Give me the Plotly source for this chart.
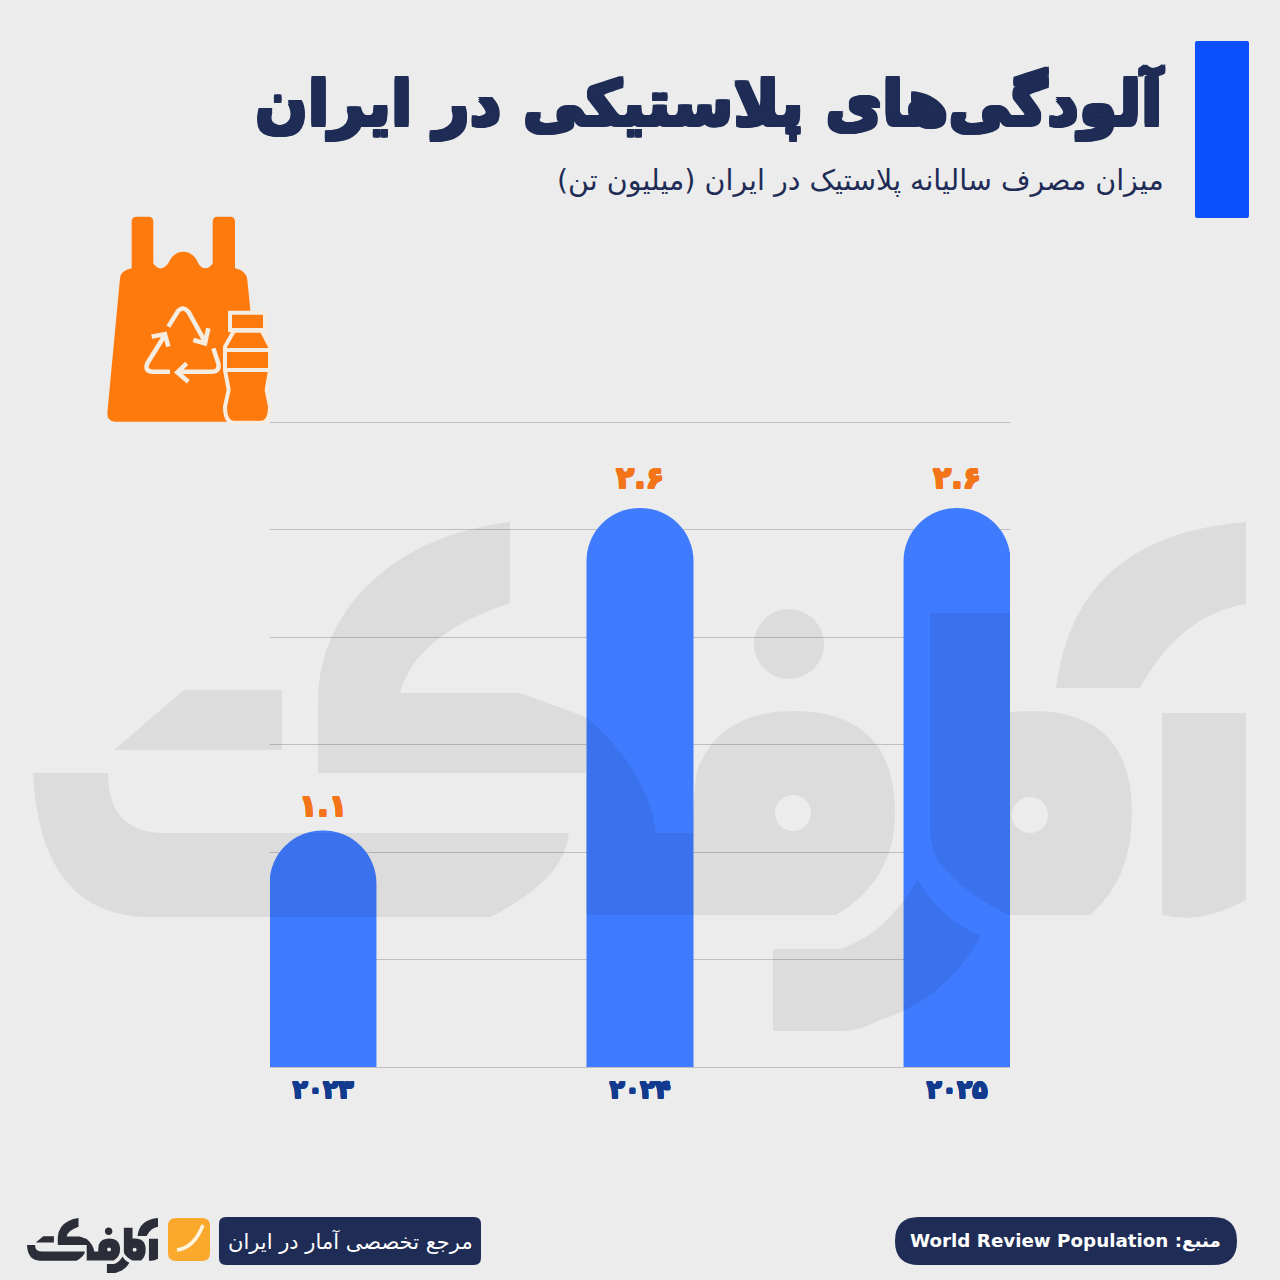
import re
import plotly.graph_objects as go

# ---- data ----
years = ["۲۰۲۳", "۲۰۲۴", "۲۰۲۵"]
values = [1.1, 2.6, 2.6]
value_labels = ["۱.۱", "۲.۶", "۲.۶"]
y_ticks = [0, 0.5, 1, 1.5, 2, 2.5, 3]

title = "آلودگی‌های پلاستیکی در ایران"
subtitle = "\u202bمیزان مصرف سالیانه پلاستیک در ایران (میلیون تن)\u202c"
source = "\u202bمنبع: World Review Population\u202c"
tagline = "مرجع تخصصی آمار در ایران"

W = H = 1280
BG = "#ececec"
NAVY = "#1e2c56"
BLUE = "#3f7bff"
ORANGE = "#ff7a0c"
CREAM = "#f5ece2"
FONT = "DejaVu Sans"


def heavy(color, d=1.0):
    """Text shadow that thickens the glyphs."""
    return ", ".join(f"{x}px {y}px 0 {color}" for x, y in
                     [(d, 0), (-d, 0), (0, d), (0, -d), (d, d), (-d, -d), (d, -d), (-d, d)])


def conv(path, sx=1.0, sy=1.0, ox=0.0, oy=0.0):
    """Pixel path -> paper path."""
    toks = re.findall(r"[MLQCZ]|-?\d+\.?\d*", path)
    out, is_x = [], True
    for t in toks:
        if t in "MLQCZ":
            out.append(t)
            is_x = True
        else:
            v = float(t)
            if is_x:
                out.append(f"{(ox + v * sx) / W:.5f}")
            else:
                out.append(f"{1 - (oy + v * sy) / H:.5f}")
            is_x = not is_x
    return " ".join(out)


def circle(cx, cy, r):
    k = 0.5523 * r
    return (f"M{cx - r} {cy} C{cx - r} {cy - k} {cx - k} {cy - r} {cx} {cy - r} "
            f"C{cx + k} {cy - r} {cx + r} {cy - k} {cx + r} {cy} "
            f"C{cx + r} {cy + k} {cx + k} {cy + r} {cx} {cy + r} "
            f"C{cx - k} {cy + r} {cx - r} {cy + k} {cx - r} {cy} Z ")


def rrect(x0, y0, x1, y1, r):
    return (f"M{x0 + r} {y0} L{x1 - r} {y0} Q{x1} {y0} {x1} {y0 + r} L{x1} {y1 - r} "
            f"Q{x1} {y1} {x1 - r} {y1} L{x0 + r} {y1} Q{x0} {y1} {x0} {y1 - r} "
            f"L{x0} {y0 + r} Q{x0} {y0} {x0 + r} {y0} Z")


def z(path):
    """Coordinates read from a 3x zoom of the icon."""
    return conv(path, 1 / 3, 1 / 3, 90, 200)


LOGO = (
    "M510 522 Q405 535 350 605 Q318 650 318 700 L318 773 L586 773 L586 915 L836 915 "
    "Q895 880 895 813 Q895 711 793 711 Q720 711 697 770 Q692 805 693 833 L656 833 "
    "Q648 770 586 717 L520 693 L400 693 Q415 635 510 603 Z "
    + circle(793, 813, 18)
    + "M184 690 L282 690 L282 750 L114 750 Z "
    "M33 773 L108 773 Q108 833 165 833 L569 833 Q565 880 490 917 L150 917 Q40 917 33 773 Z "
    + circle(789, 644, 35)
    + "M773 949 L840 949 Q885 935 918 879 Q935 915 981 936 Q945 1000 880 1020 Q860 1031 844 1031 L773 1031 Z "
    "M930 613 L1010 613 L1010 712 Q1020 711 1032 711 Q1132 711 1132 813 Q1132 880 1090 915 "
    "L1009 915 Q962 893 938 861 Q930 845 930 833 Z "
    + circle(1030, 815, 18)
    + "M1246 522 L1246 604 Q1180 615 1140 688 L1056 688 Q1075 535 1246 522 Z "
    "M1162 713 L1246 713 L1246 900 Q1200 925 1162 915 Z"
)

BAG = ("M52 640 L90 235 Q92 212 125 205 L125 65 Q125 50 140 50 L175 50 Q190 50 190 65 L190 190 "
       "Q200 207 215 205 Q232 200 240 180 Q255 155 280 155 Q305 155 320 180 Q330 205 345 205 "
       "Q360 205 368 190 L368 65 Q368 50 383 50 L420 50 Q435 50 435 65 L435 205 Q470 212 472 240 "
       "L490 420 L490 665 L75 665 Q52 665 52 640 Z")
BOTTLE = ("M432 392 L405 440 L405 510 L416 570 L405 620 Q405 665 430 668 L515 668 Q540 665 540 620 "
          "L530 570 L540 510 L540 440 L515 392 Z")
CAP = "M420 338 L525 338 L525 390 L420 390 Z"
BANDS = "M405 450 L540 450 M405 510 L540 510"
ARROWS = ("M235 380 L265 332 Q280 318 295 335 L345 425 M310 420 L345 430 L355 385 "
          "M370 445 L385 490 Q390 515 365 515 L265 515 M290 490 L262 517 L295 545 "
          "M240 515 L190 515 Q162 515 172 490 L225 405 M185 410 L225 402 L235 440")


def paper_shape(path, **kw):
    return dict(type="path", xref="paper", yref="paper", path=path, **kw)


shapes = [
    # header block
    paper_shape(conv(rrect(1195, 41, 1249, 218, 2)), fillcolor="#0b50fb", line_width=0, layer="below"),
    # icon
    paper_shape(z(BAG), fillcolor=ORANGE, line_width=0, layer="below"),
    paper_shape(z(ARROWS), line=dict(color=CREAM, width=4.5), layer="below"),
    paper_shape(z(BOTTLE), fillcolor=ORANGE, line=dict(color=CREAM, width=4), layer="below"),
    paper_shape(z(CAP), fillcolor=ORANGE, line=dict(color=CREAM, width=4), layer="below"),
    paper_shape(z(BANDS), line=dict(color=CREAM, width=4), layer="below"),
    # footer
    paper_shape(conv(rrect(219, 1217, 481, 1265, 7)), fillcolor=NAVY, line_width=0, layer="below"),
    paper_shape(conv(rrect(895, 1217, 1237, 1265, 24)), fillcolor=NAVY, line_width=0, layer="below"),
    paper_shape(conv(rrect(168, 1218, 210, 1261, 8)), fillcolor="#fba92c", line_width=0, layer="below"),
    paper_shape(conv("M177 1250 Q194 1248 203 1225"), line=dict(color="#fff4de", width=3.5), layer="below"),
    paper_shape(conv(LOGO, 131 / 1213, 0.108, 27 - 33 * 131 / 1213, 1218 - 522 * 0.108),
                fillcolor="#2b2e38", line_width=0, layer="below", fillrule="evenodd"),
    # watermark lies over the bars
    paper_shape(conv(LOGO), fillcolor="rgba(0,0,0,0.065)", line_width=0, layer="above", fillrule="evenodd"),
]

fig = go.Figure(
    go.Bar(
        x=years,
        y=values,
        width=0.3375,
        marker=dict(color=BLUE, cornerradius=54, line_width=0),
        hoverinfo="skip",
    )
)

annotations = [
    dict(text=f"<b>{title}</b>", x=1166 / W, y=1 - 103 / H, xref="paper", yref="paper", xanchor="right",
         yanchor="middle", showarrow=False, font=dict(family=FONT, size=62, color=NAVY, shadow=heavy(NAVY, 1.6))),
    dict(text=subtitle, x=1166 / W, y=1 - 181 / H, xref="paper", yref="paper", xanchor="right",
         yanchor="middle", showarrow=False, font=dict(family=FONT, size=28.5, color=NAVY)),
    dict(text=tagline, x=350 / W, y=1 - 1241 / H, xref="paper", yref="paper", xanchor="center",
         yanchor="middle", showarrow=False, font=dict(family=FONT, size=21, color="white")),
    dict(text=f"<b>{source}</b>", x=1065 / W, y=1 - 1241 / H, xref="paper", yref="paper", xanchor="center",
         yanchor="middle", showarrow=False, font=dict(family=FONT, size=18.3, color="white")),
]
for yr, val, lab in zip(years, values, value_labels):
    annotations.append(dict(text=f"<b>{lab}</b>", x=yr, y=val, xref="x", yref="y", xanchor="center",
                            yanchor="bottom", yshift=(6 if val < 2 else 11), showarrow=False,
                            font=dict(family=FONT, size=30, color="#f4741a", shadow=heavy("#f4741a", 0.8))))

TOP = 3.01  # nudged so that the gridline at 3 is kept
fig.update_layout(
    width=W,
    height=H,
    margin=dict(l=0, r=0, t=0, b=0),
    paper_bgcolor=BG,
    plot_bgcolor="rgba(0,0,0,0)",
    showlegend=False,
    shapes=shapes,
    annotations=annotations,
    xaxis=dict(
        type="category",
        domain=[270 / W, 1010 / W],
        range=[-0.167, 2.167],
        showgrid=False,
        zeroline=False,
        showline=False,
        ticks="",
        tickfont=dict(family=FONT, size=25, color="#123a8f", weight=700, shadow=heavy("#123a8f", 0.8)),
        ticklabelstandoff=5,
    ),
    yaxis=dict(
        domain=[1 - 1067 / H, 1 - (1067 - 215 * TOP) / H],
        range=[0, TOP],
        tickvals=y_ticks,
        showticklabels=False,
        showgrid=True,
        gridcolor="#bfbfbf",
        gridwidth=1,
        zeroline=True,
        zerolinecolor="#bfbfbf",
        zerolinewidth=1,
    ),
)

fig.write_html("out.html", config=dict(displayModeBar=False),
               post_script="document.body.style.margin='0';")
